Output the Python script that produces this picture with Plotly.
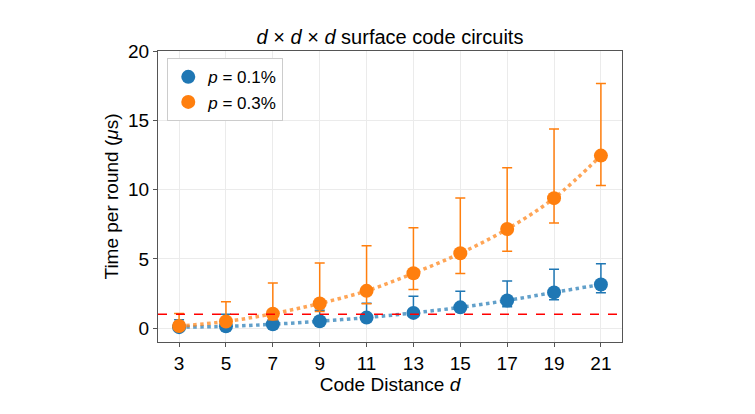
import plotly.graph_objects as go

# code distances
distances = [3, 5, 7, 9, 11, 13, 15, 17, 19, 21]

# p = 0.1%
time_p01 = [0.07, 0.13, 0.28, 0.50, 0.76, 1.10, 1.50, 2.00, 2.58, 3.15]
upper_p01 = [0.60, 1.00, 1.10, 1.30, 1.80, 2.30, 2.67, 3.40, 4.25, 4.65]
lower_p01 = [0.00, 0.05, 0.15, 0.35, 0.60, 0.90, 1.30, 1.55, 2.05, 2.55]

# p = 0.3%
time_p03 = [0.15, 0.48, 1.04, 1.78, 2.69, 3.96, 5.40, 7.15, 9.38, 12.45]
upper_p03 = [1.05, 1.90, 3.25, 4.70, 5.95, 7.25, 9.40, 11.58, 14.38, 17.65]
lower_p03 = [0.00, 0.20, 0.60, 1.20, 1.76, 2.78, 3.95, 5.55, 7.58, 10.30]

threshold = 1.0

blue = "#1f77b4"
orange = "#ff7f0e"


def err(vals, upper, lower):
    plus = [u - v for u, v in zip(upper, vals)]
    minus = [v - l for v, l in zip(vals, lower)]
    return plus, minus


fig = go.Figure()

for vals, up, lo, color, fit_color, name in [
    (time_p01, upper_p01, lower_p01, blue, "rgba(31,119,180,0.7)", "<i>p</i> = 0.1%"),
    (time_p03, upper_p03, lower_p03, orange, "rgba(255,127,14,0.7)", "<i>p</i> = 0.3%"),
]:
    fig.add_trace(go.Scatter(
        x=distances, y=vals, mode="lines", line_shape="spline",
        line=dict(color=fit_color, width=3.5, dash="dot"),
        showlegend=False, hoverinfo="skip",
    ))
    plus, minus = err(vals, up, lo)
    fig.add_trace(go.Scatter(
        x=distances, y=vals, mode="markers", name=name,
        marker=dict(color=color, size=14),
        error_y=dict(type="data", symmetric=False, array=plus, arrayminus=minus,
                     color=color, thickness=1.5, width=5),
    ))

fig.add_hline(y=threshold, line_width=1.5, line_dash="dash", line_color="red")

axis_common = dict(
    showline=True, linecolor="#555555", linewidth=1, mirror=True,
    showgrid=True, gridcolor="#ebebeb", gridwidth=1,
    ticks="outside", ticklen=4, tickcolor="#555555",
    zeroline=False, automargin=False,
    tickfont=dict(size=19, color="black"),
)

# the page body adds an 8px offset, so margins are shifted to compensate
fig.update_layout(
    width=755, height=414,
    margin=dict(l=150, r=141, t=43, b=80, autoexpand=False),
    plot_bgcolor="white", paper_bgcolor="white",
    font=dict(family="Liberation Sans, Arial, sans-serif", color="black"),
    title=dict(
        text="<i>d</i> × <i>d</i> × <i>d</i> surface code circuits",
        x=(150 + 464 / 2) / 755, xanchor="center",
        y=0.93, yanchor="middle", font=dict(size=20),
    ),
    xaxis=dict(
        range=[2.1, 21.9], tickvals=distances,
        title=dict(text="Code Distance <i>d</i>", font=dict(size=19), standoff=2),
        **axis_common,
    ),
    yaxis=dict(
        range=[-1, 20], tickvals=[0, 5, 10, 15, 20],
        title=dict(text="Time per round (<i>μ</i>s)", font=dict(size=19), standoff=4),
        **axis_common,
    ),
    legend=dict(
        x=0.02, y=0.975, xanchor="left", yanchor="top",
        bgcolor="white", bordercolor="#cccccc", borderwidth=1,
        font=dict(size=17),
    ),
)

fig.write_html("out.html")
